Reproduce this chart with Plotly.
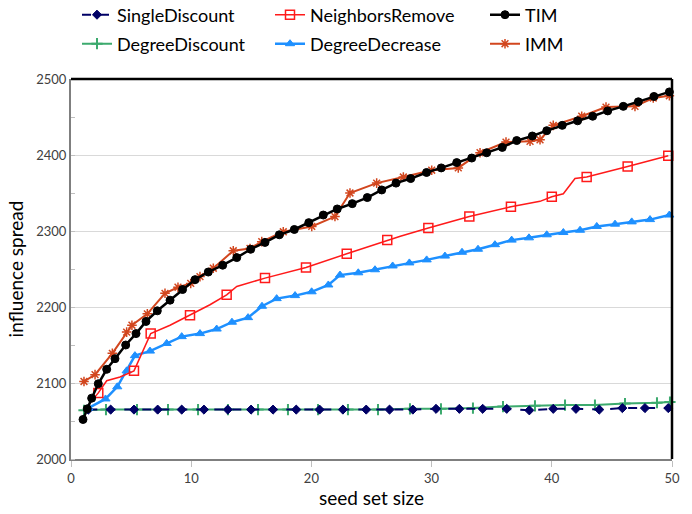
import plotly.graph_objects as go

# ---------------- data ----------------
sd_x = [1.44, 3.30, 5.24, 7.21, 9.21, 11.06, 13.04, 14.98, 16.81, 18.74, 20.68, 22.62, 24.56,
        26.50, 28.44, 30.37, 32.31, 34.25, 36.25, 38.13, 40.12, 42.01, 43.95, 45.87, 47.75, 49.69]
sd_y = [2065, 2065, 2065, 2065, 2065, 2065, 2065, 2065, 2065, 2065, 2065, 2065, 2065,
        2065, 2065, 2066, 2066, 2066, 2066, 2064, 2066, 2066, 2065, 2067, 2067, 2067]

dd_x = [1.08, 2.91, 5.49, 8.07, 10.57, 13.06, 15.56, 18.05, 20.55, 23.04, 25.54, 28.20, 30.78,
        33.44, 35.94, 38.60, 41.10, 43.59, 46.09, 48.75, 49.83]
dd_y = [2064, 2065, 2065, 2065, 2065, 2065, 2065, 2065, 2065, 2065, 2065, 2066, 2066,
        2067, 2069, 2070, 2071, 2071, 2073, 2074, 2075]

nr_x = [1.08, 2.27, 2.97, 4.08, 5.24, 6.63, 8.24, 9.90, 11.56, 12.95, 13.79, 16.14, 19.55,
        22.94, 26.31, 27.40, 29.73, 33.14, 36.60, 39.02, 40.00, 40.96, 41.93, 42.90, 46.31, 49.69]
nr_y = [2064, 2087, 2103, 2108, 2116, 2165, 2176, 2189, 2203, 2216, 2227, 2238, 2252,
        2270, 2288, 2293, 2304, 2319, 2332, 2339, 2345, 2349, 2369, 2371, 2385, 2399]
nr_mx = [2.27, 5.24, 6.63, 9.90, 12.95, 16.14, 19.55, 22.94, 26.31, 29.73, 33.14, 36.60,
         40.00, 42.90, 46.31, 49.69]
nr_my = [2087, 2116, 2165, 2189, 2216, 2238, 2252, 2270, 2288, 2304, 2319, 2332,
         2345, 2371, 2385, 2399]

ddec_x = [1.44, 2.87, 3.85, 4.63, 5.32, 6.57, 7.96, 9.21, 10.73, 12.12, 13.39, 14.73, 15.89,
          17.11, 18.64, 20.02, 21.41, 22.38, 23.90, 25.29, 26.76, 28.15, 29.59, 31.11, 32.53,
          33.86, 35.27, 36.66, 38.10, 39.58, 40.96, 42.35, 43.74, 45.26, 46.65, 48.17, 49.78]
ddec_y = [2067, 2079, 2095, 2116, 2136, 2142, 2152, 2161, 2165, 2171, 2180, 2186, 2201,
          2211, 2215, 2220, 2229, 2242, 2245, 2249, 2254, 2258, 2262, 2267, 2272,
          2276, 2282, 2288, 2291, 2295, 2298, 2301, 2306, 2309, 2312, 2315, 2321]

tim_x = [1.00, 1.35, 1.72, 2.27, 2.97, 3.66, 4.55, 5.41, 6.24, 7.18, 8.24, 9.28, 10.32, 11.42,
         12.62, 13.79, 14.95, 16.14, 17.33, 18.58, 19.78, 20.99, 22.15, 23.40, 24.65, 25.85,
         27.04, 28.26, 29.58, 30.80, 32.09, 33.34, 34.58, 35.88, 37.08, 38.38, 39.58, 40.87,
         42.15, 43.40, 44.65, 45.95, 47.20, 48.50, 49.78]
tim_y = [2052, 2066, 2080, 2099, 2118, 2132, 2150, 2165, 2181, 2195, 2209, 2223, 2236, 2246,
         2255, 2265, 2276, 2285, 2295, 2302, 2311, 2321, 2329, 2336, 2344, 2354,
         2363, 2369, 2377, 2383, 2390, 2396, 2403, 2410, 2419, 2425, 2432, 2439,
         2445, 2451, 2458, 2464, 2470, 2477, 2483]

imm_x = [1.08, 2.00, 3.44, 4.63, 5.07, 6.35, 7.82, 8.90, 9.96, 10.73, 11.84, 13.50, 14.89, 15.87,
         17.66, 20.03, 21.96, 23.21, 25.43, 27.65, 30.01, 32.22, 34.03, 36.19, 38.19, 39.02,
         40.12, 42.49, 44.51, 46.92, 48.44, 49.78]
imm_y = [2102, 2111, 2139, 2167, 2176, 2191, 2218, 2226, 2231, 2240, 2251, 2274, 2277, 2286,
         2299, 2306, 2319, 2350, 2363, 2371, 2380, 2383, 2403, 2417, 2418, 2420,
         2439, 2451, 2463, 2464, 2475, 2478]

x_ticks = [0, 10, 20, 30, 40, 50]
y_ticks = [2000, 2100, 2200, 2300, 2400, 2500]

FONT = "Lato"
C_SD = "#000066"
C_DD = "#3CAA6E"
C_NR = "#FF1A1A"
C_DDEC = "#1E90FF"
C_TIM = "#000000"
C_IMM = "#D2461E"

fig = go.Figure()

def series(name, x, y, color, width, dash, symbol, msize, legend, mx=None, my=None,
           mline=1, mcolor=None):
    mc = mcolor if mcolor is not None else color
    if mx is None:
        fig.add_trace(go.Scatter(
            x=x, y=y, name=name, mode="lines+markers", legend=legend,
            line=dict(color=color, width=width, dash=dash),
            marker=dict(symbol=symbol, size=msize, color=mc,
                        line=dict(color=color, width=mline)),
            cliponaxis=False))
    else:
        fig.add_trace(go.Scatter(
            x=x, y=y, name=name, mode="lines", showlegend=False,
            line=dict(color=color, width=width, dash=dash), cliponaxis=False))
        fig.add_trace(go.Scatter(
            x=mx, y=my, name=name, mode="markers", showlegend=False,
            marker=dict(symbol=symbol, size=msize, color=mc,
                        line=dict(color=color, width=mline)),
            cliponaxis=False))
        fig.add_trace(go.Scatter(
            x=[None], y=[None], name=name, mode="lines+markers", legend=legend,
            line=dict(color=color, width=width, dash=dash),
            marker=dict(symbol=symbol, size=msize, color=mc,
                        line=dict(color=color, width=mline))))

# draw order: flat ones first, then others
series("DegreeDiscount", dd_x, dd_y, C_DD, 2, "solid", "cross-thin-open", 8, "legend4", mline=2)
series("SingleDiscount", sd_x, sd_y, C_SD, 2, "dash", "diamond", 7, "legend")
series("DegreeDecrease", ddec_x, ddec_y, C_DDEC, 2.5, "solid", "triangle-up", 8, "legend5")
series("NeighborsRemove", nr_x, nr_y, C_NR, 1.5, "solid", "square-open", 9, "legend2",
       mx=nr_mx, my=nr_my, mline=1.5)
series("IMM", imm_x, imm_y, C_IMM, 2, "solid", "asterisk-open", 8, "legend6", mline=1.5)
series("TIM", tim_x, tim_y, C_TIM, 2.5, "solid", "circle", 8, "legend3")

legend_common = dict(orientation="h", xref="container", yref="container",
                     xanchor="left", yanchor="middle",
                     font=dict(family=FONT, size=18, color="#000000"),
                     bgcolor="rgba(0,0,0,0)", itemwidth=30)

W, H = 692, 514
col_x = [77, 270, 485]
row_y = [15, 44]
legends = {}
names = ["legend", "legend2", "legend3", "legend4", "legend5", "legend6"]
for i, nm in enumerate(names):
    r, c = divmod(i, 3)
    legends[nm] = dict(x=col_x[c] / W, y=1 - row_y[r] / H, **legend_common)

fig.update_layout(
    width=W, height=H,
    margin=dict(l=71, r=20, t=79, b=55, autoexpand=False),
    paper_bgcolor="white", plot_bgcolor="white",
    font=dict(family=FONT, color="#000000"),
    **legends,
    xaxis=dict(range=[0, 50], tickvals=x_ticks, showgrid=False, zeroline=False,
               ticks="outside", ticklen=6, tickcolor="#bfbfbf", tickwidth=1,
               showline=True, linecolor="#7f7f7f", linewidth=2,
               tickfont=dict(family=FONT, size=13, color="#404040"),
               title=dict(text="seed set size", font=dict(family=FONT, size=19, color="#000"),
                          standoff=6)),
    yaxis=dict(range=[2000, 2500], tickvals=y_ticks, showgrid=True, gridcolor="#d9d9d9",
               gridwidth=1, zeroline=False, ticks="", showline=True,
               linecolor="#7f7f7f", linewidth=2,
               minor=dict(dtick=50, ticks="inside", ticklen=4, tickcolor="#bfbfbf",
                          showgrid=False),
               tickfont=dict(family=FONT, size=13, color="#404040"),
               title=dict(text="influence spread", font=dict(family=FONT, size=19, color="#000"),
                          standoff=8)),
)

# top and right frame lines (black)
fig.add_shape(type="line", xref="paper", yref="paper", x0=0, x1=1, y0=1, y1=1,
              line=dict(color="#000", width=2.5), layer="above")
fig.add_shape(type="line", xref="paper", yref="paper", x0=1, x1=1, y0=0, y1=1,
              line=dict(color="#000", width=2.5), layer="above")

fig.write_html("out.html")
